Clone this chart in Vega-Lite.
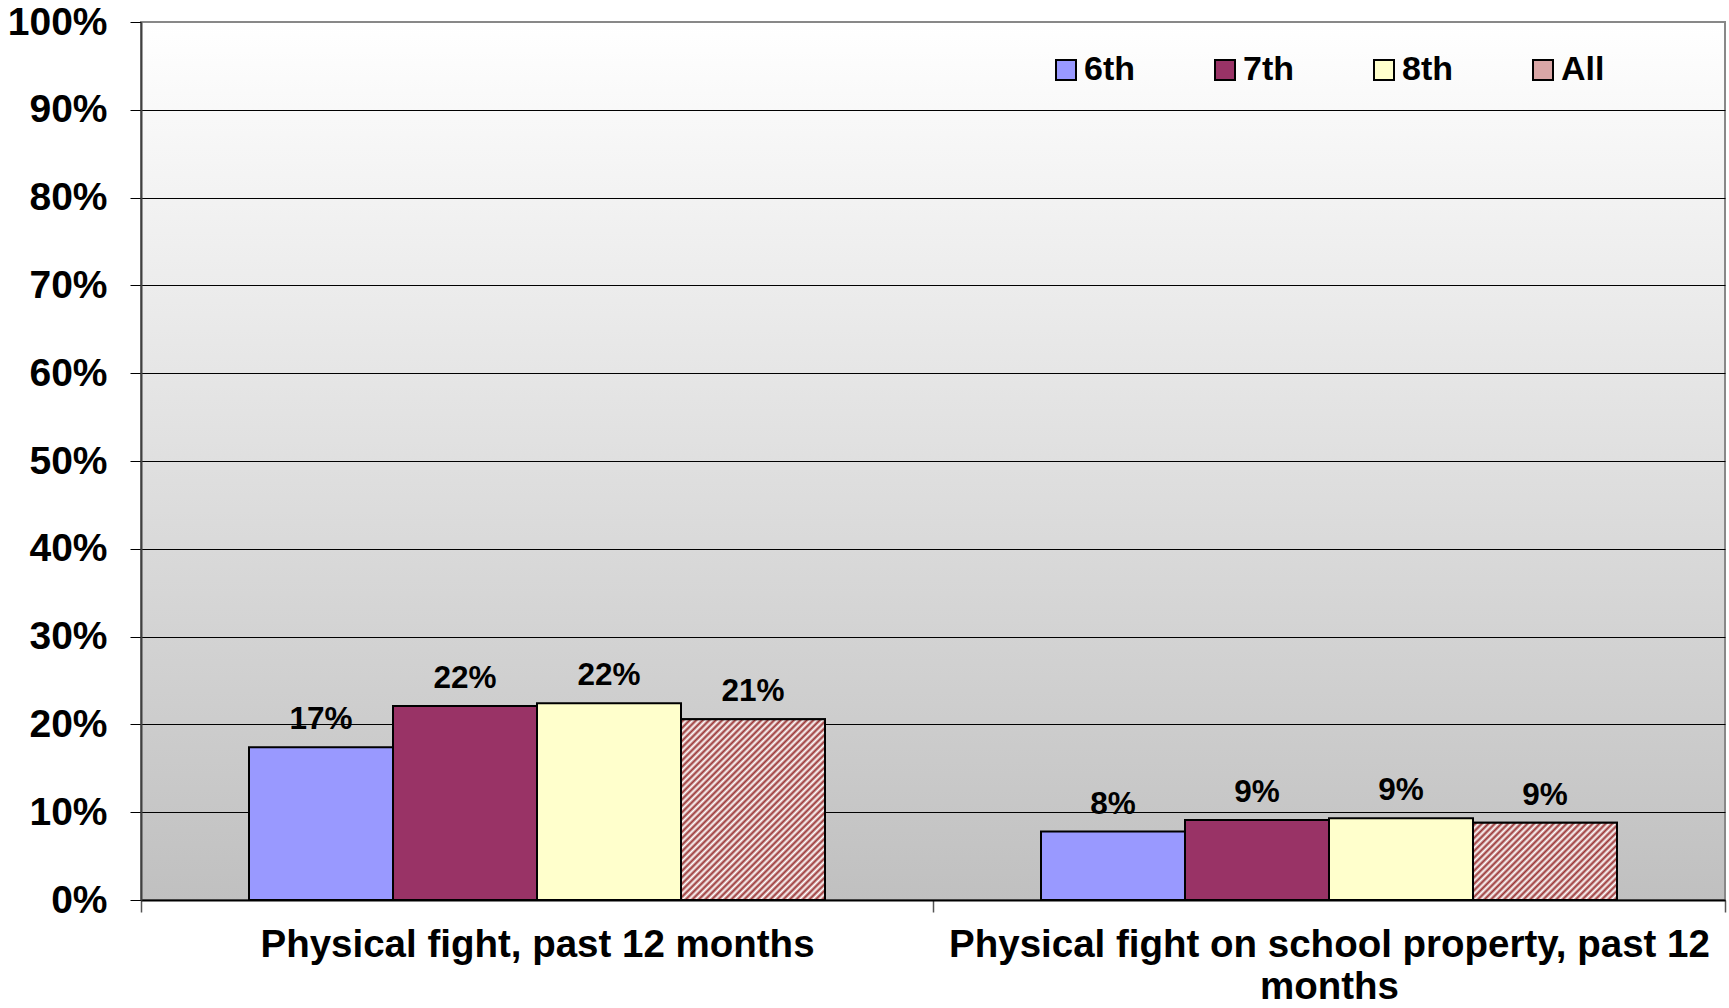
{
  "$schema": "https://vega.github.io/schema/vega-lite/v6.json",
  "width": 1584,
  "height": 878,
  "autosize": {"type": "none"},
  "padding": {"left": 141, "top": 22, "right": 4, "bottom": 108},
  "background": "white",
  "config": {
    "font": "Liberation Sans",
    "view": {
      "fill": {"gradient": "linear", "x1": 0, "y1": 0, "x2": 0, "y2": 1, "stops": [{"offset": 0, "color": "#ffffff"}, {"offset": 1, "color": "#c0c0c0"}]},
      "stroke": "#888888",
      "strokeWidth": 2
    }
  },
  "data": {
    "values": [
      {"category": "Physical fight, past 12 months", "grade": "6th", "value": 0.174},
      {"category": "Physical fight, past 12 months", "grade": "7th", "value": 0.221},
      {"category": "Physical fight, past 12 months", "grade": "8th", "value": 0.224},
      {"category": "Physical fight, past 12 months", "grade": "All", "value": 0.206},
      {"category": "Physical fight on school property, past 12 months", "grade": "6th", "value": 0.078},
      {"category": "Physical fight on school property, past 12 months", "grade": "7th", "value": 0.091},
      {"category": "Physical fight on school property, past 12 months", "grade": "8th", "value": 0.093},
      {"category": "Physical fight on school property, past 12 months", "grade": "All", "value": 0.088}
    ]
  },
  "encoding": {
    "x": {
      "field": "category",
      "type": "nominal",
      "scale": {"domain": ["Physical fight, past 12 months", "Physical fight on school property, past 12 months"], "paddingInner": 0, "paddingOuter": 0},
      "axis": {
        "title": null,
        "labelAngle": 0,
        "labelFontSize": 38.5,
        "labelFontWeight": "bold",
        "labelColor": "#000000",
        "labelPadding": 14,
        "labelLineHeight": 42,
        "labelLimit": 0,
        "labelExpr": "indexof(datum.label, 'school') > 0 ? ['Physical fight on school property, past 12', 'months'] : datum.label",
        "tickBand": "extent",
        "tickSize": 12,
        "tickColor": "#555555",
        "tickWidth": 1.5,
        "domainColor": "#000000",
        "domainWidth": 2,
        "grid": false
      }
    },
    "xOffset": {
      "field": "grade",
      "type": "nominal",
      "scale": {"domain": ["6th", "7th", "8th", "All"], "paddingInner": 0, "paddingOuter": 0.75}
    },
    "y": {
      "field": "value",
      "type": "quantitative",
      "scale": {"domain": [0, 1]},
      "axis": {
        "title": null,
        "values": [0, 0.1, 0.2, 0.3, 0.4, 0.5, 0.6, 0.7, 0.8, 0.9, 1],
        "format": ".0%",
        "labelFontSize": 39,
        "labelFontWeight": "bold",
        "labelColor": "#000000",
        "labelPadding": 23,
        "tickSize": 11,
        "tickColor": "#000000",
        "tickWidth": 1,
        "domainColor": "#404040",
        "domainWidth": 2,
        "grid": true,
        "gridColor": {"condition": {"test": "datum.value === 1", "value": "#888888"}, "value": "#000000"},
        "gridWidth": 1
      }
    }
  },
  "layer": [
    {
      "mark": {"type": "bar", "stroke": "#000000", "strokeWidth": 2},
      "encoding": {
        "color": {
          "field": "grade",
          "type": "nominal",
          "scale": {"domain": ["6th", "7th", "8th", "All"], "range": ["#9999FF", "#993366", "#FFFFCC", "#d9a6a6"]},
          "legend": {
            "title": null,
            "orient": "none",
            "legendX": 908,
            "legendY": 31,
            "direction": "horizontal",
            "padding": 0,
            "symbolType": "square",
            "symbolSize": 400,
            "symbolStrokeColor": "#000000",
            "symbolStrokeWidth": 2,
            "symbolOpacity": 1,
            "labelFontSize": 34,
            "labelFontWeight": "bold",
            "labelColor": "#000000",
            "labelOffset": 1,
            "columnPadding": 73
          }
        }
      }
    },
    {
      "transform": [{"filter": "datum.grade == 'All' && datum.category == 'Physical fight, past 12 months'"}],
      "mark": {
        "type": "bar",
        "stroke": "#000000",
        "strokeWidth": 2,
        "fill": {"gradient": "linear", "x1": 0, "y1": 0, "x2": 0.8748, "y2": 1.0996, "stops": [
          {"offset": 0, "color": "#ffffff"}, {"offset": 0.01, "color": "#993333"}, {"offset": 0.02, "color": "#ffffff"}, {"offset": 0.03, "color": "#993333"}, {"offset": 0.04, "color": "#ffffff"}, {"offset": 0.05, "color": "#993333"}, {"offset": 0.06, "color": "#ffffff"}, {"offset": 0.07, "color": "#993333"}, {"offset": 0.08, "color": "#ffffff"}, {"offset": 0.09, "color": "#993333"},
          {"offset": 0.10, "color": "#ffffff"}, {"offset": 0.11, "color": "#993333"}, {"offset": 0.12, "color": "#ffffff"}, {"offset": 0.13, "color": "#993333"}, {"offset": 0.14, "color": "#ffffff"}, {"offset": 0.15, "color": "#993333"}, {"offset": 0.16, "color": "#ffffff"}, {"offset": 0.17, "color": "#993333"}, {"offset": 0.18, "color": "#ffffff"}, {"offset": 0.19, "color": "#993333"},
          {"offset": 0.20, "color": "#ffffff"}, {"offset": 0.21, "color": "#993333"}, {"offset": 0.22, "color": "#ffffff"}, {"offset": 0.23, "color": "#993333"}, {"offset": 0.24, "color": "#ffffff"}, {"offset": 0.25, "color": "#993333"}, {"offset": 0.26, "color": "#ffffff"}, {"offset": 0.27, "color": "#993333"}, {"offset": 0.28, "color": "#ffffff"}, {"offset": 0.29, "color": "#993333"},
          {"offset": 0.30, "color": "#ffffff"}, {"offset": 0.31, "color": "#993333"}, {"offset": 0.32, "color": "#ffffff"}, {"offset": 0.33, "color": "#993333"}, {"offset": 0.34, "color": "#ffffff"}, {"offset": 0.35, "color": "#993333"}, {"offset": 0.36, "color": "#ffffff"}, {"offset": 0.37, "color": "#993333"}, {"offset": 0.38, "color": "#ffffff"}, {"offset": 0.39, "color": "#993333"},
          {"offset": 0.40, "color": "#ffffff"}, {"offset": 0.41, "color": "#993333"}, {"offset": 0.42, "color": "#ffffff"}, {"offset": 0.43, "color": "#993333"}, {"offset": 0.44, "color": "#ffffff"}, {"offset": 0.45, "color": "#993333"}, {"offset": 0.46, "color": "#ffffff"}, {"offset": 0.47, "color": "#993333"}, {"offset": 0.48, "color": "#ffffff"}, {"offset": 0.49, "color": "#993333"},
          {"offset": 0.50, "color": "#ffffff"}, {"offset": 0.51, "color": "#993333"}, {"offset": 0.52, "color": "#ffffff"}, {"offset": 0.53, "color": "#993333"}, {"offset": 0.54, "color": "#ffffff"}, {"offset": 0.55, "color": "#993333"}, {"offset": 0.56, "color": "#ffffff"}, {"offset": 0.57, "color": "#993333"}, {"offset": 0.58, "color": "#ffffff"}, {"offset": 0.59, "color": "#993333"},
          {"offset": 0.60, "color": "#ffffff"}, {"offset": 0.61, "color": "#993333"}, {"offset": 0.62, "color": "#ffffff"}, {"offset": 0.63, "color": "#993333"}, {"offset": 0.64, "color": "#ffffff"}, {"offset": 0.65, "color": "#993333"}, {"offset": 0.66, "color": "#ffffff"}, {"offset": 0.67, "color": "#993333"}, {"offset": 0.68, "color": "#ffffff"}, {"offset": 0.69, "color": "#993333"},
          {"offset": 0.70, "color": "#ffffff"}, {"offset": 0.71, "color": "#993333"}, {"offset": 0.72, "color": "#ffffff"}, {"offset": 0.73, "color": "#993333"}, {"offset": 0.74, "color": "#ffffff"}, {"offset": 0.75, "color": "#993333"}, {"offset": 0.76, "color": "#ffffff"}, {"offset": 0.77, "color": "#993333"}, {"offset": 0.78, "color": "#ffffff"}, {"offset": 0.79, "color": "#993333"},
          {"offset": 0.80, "color": "#ffffff"}, {"offset": 0.81, "color": "#993333"}, {"offset": 0.82, "color": "#ffffff"}, {"offset": 0.83, "color": "#993333"}, {"offset": 0.84, "color": "#ffffff"}, {"offset": 0.85, "color": "#993333"}, {"offset": 0.86, "color": "#ffffff"}, {"offset": 0.87, "color": "#993333"}, {"offset": 0.88, "color": "#ffffff"}, {"offset": 0.89, "color": "#993333"},
          {"offset": 0.90, "color": "#ffffff"}, {"offset": 0.91, "color": "#993333"}, {"offset": 0.92, "color": "#ffffff"}, {"offset": 0.93, "color": "#993333"}, {"offset": 0.94, "color": "#ffffff"}, {"offset": 0.95, "color": "#993333"}, {"offset": 0.96, "color": "#ffffff"}, {"offset": 0.97, "color": "#993333"}, {"offset": 0.98, "color": "#ffffff"}, {"offset": 0.99, "color": "#993333"},
          {"offset": 1, "color": "#ffffff"}
        ]}
      }
    },
    {
      "transform": [{"filter": "datum.grade == 'All' && datum.category == 'Physical fight on school property, past 12 months'"}],
      "mark": {
        "type": "bar",
        "stroke": "#000000",
        "strokeWidth": 2,
        "fill": {"gradient": "linear", "x1": 0, "y1": 0, "x2": 1.76, "y2": 0.941, "stops": [
          {"offset": 0, "color": "#ffffff"}, {"offset": 0.01, "color": "#993333"}, {"offset": 0.02, "color": "#ffffff"}, {"offset": 0.03, "color": "#993333"}, {"offset": 0.04, "color": "#ffffff"}, {"offset": 0.05, "color": "#993333"}, {"offset": 0.06, "color": "#ffffff"}, {"offset": 0.07, "color": "#993333"}, {"offset": 0.08, "color": "#ffffff"}, {"offset": 0.09, "color": "#993333"},
          {"offset": 0.10, "color": "#ffffff"}, {"offset": 0.11, "color": "#993333"}, {"offset": 0.12, "color": "#ffffff"}, {"offset": 0.13, "color": "#993333"}, {"offset": 0.14, "color": "#ffffff"}, {"offset": 0.15, "color": "#993333"}, {"offset": 0.16, "color": "#ffffff"}, {"offset": 0.17, "color": "#993333"}, {"offset": 0.18, "color": "#ffffff"}, {"offset": 0.19, "color": "#993333"},
          {"offset": 0.20, "color": "#ffffff"}, {"offset": 0.21, "color": "#993333"}, {"offset": 0.22, "color": "#ffffff"}, {"offset": 0.23, "color": "#993333"}, {"offset": 0.24, "color": "#ffffff"}, {"offset": 0.25, "color": "#993333"}, {"offset": 0.26, "color": "#ffffff"}, {"offset": 0.27, "color": "#993333"}, {"offset": 0.28, "color": "#ffffff"}, {"offset": 0.29, "color": "#993333"},
          {"offset": 0.30, "color": "#ffffff"}, {"offset": 0.31, "color": "#993333"}, {"offset": 0.32, "color": "#ffffff"}, {"offset": 0.33, "color": "#993333"}, {"offset": 0.34, "color": "#ffffff"}, {"offset": 0.35, "color": "#993333"}, {"offset": 0.36, "color": "#ffffff"}, {"offset": 0.37, "color": "#993333"}, {"offset": 0.38, "color": "#ffffff"}, {"offset": 0.39, "color": "#993333"},
          {"offset": 0.40, "color": "#ffffff"}, {"offset": 0.41, "color": "#993333"}, {"offset": 0.42, "color": "#ffffff"}, {"offset": 0.43, "color": "#993333"}, {"offset": 0.44, "color": "#ffffff"}, {"offset": 0.45, "color": "#993333"}, {"offset": 0.46, "color": "#ffffff"}, {"offset": 0.47, "color": "#993333"}, {"offset": 0.48, "color": "#ffffff"}, {"offset": 0.49, "color": "#993333"},
          {"offset": 0.50, "color": "#ffffff"}, {"offset": 0.51, "color": "#993333"}, {"offset": 0.52, "color": "#ffffff"}, {"offset": 0.53, "color": "#993333"}, {"offset": 0.54, "color": "#ffffff"}, {"offset": 0.55, "color": "#993333"}, {"offset": 0.56, "color": "#ffffff"}, {"offset": 0.57, "color": "#993333"}, {"offset": 0.58, "color": "#ffffff"}, {"offset": 0.59, "color": "#993333"},
          {"offset": 0.60, "color": "#ffffff"}, {"offset": 0.61, "color": "#993333"}, {"offset": 0.62, "color": "#ffffff"}, {"offset": 0.63, "color": "#993333"}, {"offset": 0.64, "color": "#ffffff"}, {"offset": 0.65, "color": "#993333"}, {"offset": 0.66, "color": "#ffffff"}, {"offset": 0.67, "color": "#993333"}, {"offset": 0.68, "color": "#ffffff"}, {"offset": 0.69, "color": "#993333"},
          {"offset": 0.70, "color": "#ffffff"}, {"offset": 0.71, "color": "#993333"}, {"offset": 0.72, "color": "#ffffff"}
        ]}
      }
    },
    {
      "mark": {"type": "text", "fontSize": 31.5, "fontWeight": "bold", "baseline": "alphabetic", "dy": -18, "color": "#000000"},
      "encoding": {
        "text": {"field": "value", "type": "quantitative", "format": ".0%"}
      }
    }
  ]
}
